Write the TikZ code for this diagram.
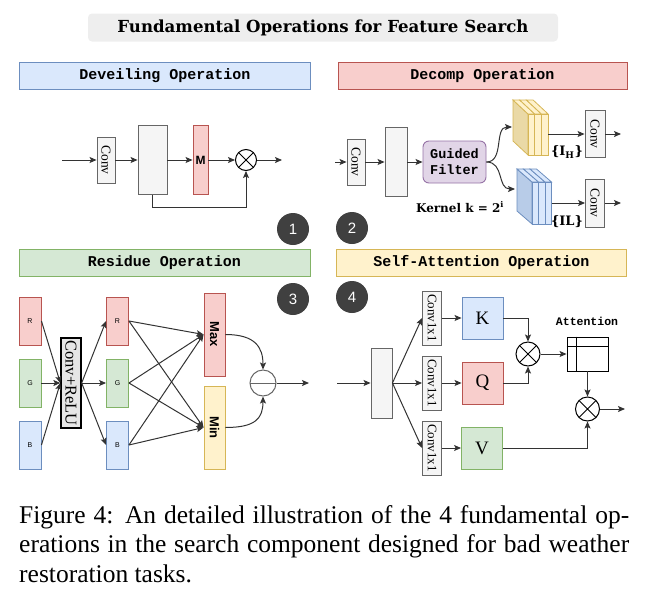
\documentclass[tikz,border=0pt]{standalone}
\usepackage{fontspec}
\usepackage{graphicx}
\setmainfont{Liberation Serif}
\setsansfont{Liberation Sans}
\setmonofont{Liberation Mono}
\newfontfamily\geo{DejaVu Serif}
\usetikzlibrary{arrows.meta,calc}
\definecolor{blueF}{HTML}{DAE8FC}\definecolor{blueD}{HTML}{6C8EBF}
\definecolor{redF}{HTML}{F8CECC}\definecolor{redD}{HTML}{B85450}
\definecolor{greenF}{HTML}{D5E8D4}\definecolor{greenD}{HTML}{82B366}
\definecolor{yelF}{HTML}{FFF2CC}\definecolor{yelD}{HTML}{D6B656}
\definecolor{purF}{HTML}{E1D5E7}\definecolor{purD}{HTML}{9673A6}
\definecolor{grayF}{HTML}{F5F5F5}\definecolor{grayD}{HTML}{666666}
\definecolor{linec}{HTML}{333333}
\definecolor{badgeC}{HTML}{404040}
\definecolor{titleF}{HTML}{EEEEEE}
\definecolor{yelS}{HTML}{EAD9A6}
\definecolor{blueS}{HTML}{B8CCE8}
\definecolor{reluF}{HTML}{E6E6E6}
\begin{document}
\begin{tikzpicture}[x=1pt,y=-1pt,
  arr/.style={draw=linec,line width=1pt,-{Stealth[length=7pt,width=6pt,inset=1.5pt]}},
  box/.style={rectangle,draw,inner sep=0pt,line width=0.9pt},
  gbox/.style={box,fill=grayF,draw=grayD},
  convb/.style={gbox,minimum width=18pt,minimum height=46pt,font=\fontsize{13.5}{13.5}\selectfont},
  hdr/.style={box,minimum width=291pt,minimum height=27pt,font=\ttfamily\bfseries\fontsize{15}{15}\selectfont},
  badge/.style={circle,fill=badgeC,text=white,minimum size=32pt,inner sep=0pt,font=\sffamily\fontsize{15}{15}\selectfont},
  otimes/.style={circle,draw=black,line width=1pt,minimum size=#1,inner sep=0pt,
     path picture={\draw[black,line width=1pt] (path picture bounding box.center) +(45:20pt) -- +(225:20pt)
        (path picture bounding box.center) +(135:20pt) -- +(-45:20pt);}},
  ominus/.style={circle,draw=grayD,line width=1pt,minimum size=26pt,inner sep=0pt,
     path picture={\draw[grayD,line width=1pt] (path picture bounding box.west) -- (path picture bounding box.east);}},
  rgb/.style={box,minimum width=22pt,minimum height=48pt,font=\sffamily\fontsize{7}{7}\selectfont},
  letter/.style={box,minimum width=41pt,minimum height=42pt,font=\fontsize{19}{19}\selectfont},
  cxx/.style={gbox,minimum width=19pt,minimum height=54pt,font=\fontsize{13}{13}\selectfont},
  slab/.style={line width=0.8pt},
]
\useasboundingbox (0,0) rectangle (648,600);
% title and headers
\node[fill=titleF,rounded corners=4pt,minimum width=470pt,minimum height=28pt,inner sep=0pt,font=\geo\bfseries\fontsize{16.6}{16.6}\selectfont] (title) at (323,27.5) {Fundamental Operations for Feature Search};
\node[hdr,fill=blueF,draw=blueD] (h1) at (165,76) {Deveiling Operation};
\node[hdr,fill=redF,draw=redD,minimum width=289pt] (h2) at (482.5,76) {Decomp Operation};
\node[hdr,fill=greenF,draw=greenD] (h3) at (164.5,262.5) {Residue Operation};
\node[hdr,fill=yelF,draw=yelD,minimum width=290pt] (h4) at (481.5,262.5) {Self-Attention Operation};
% badges
\node[badge] (b1) at (293,229) {1};
\node[badge] (b2) at (352,228) {2};
\node[badge] (b3) at (293,299) {3};
\node[badge] (b4) at (352,297) {4};
% ---------- panel 1
\coordinate (p1in) at (62,160);
\node[convb] (p1conv) at (106,160) {\rotatebox{-90}{Conv}};
\node[gbox,minimum width=29pt,minimum height=69pt] (p1box) at (152.5,160) {};
\node[box,fill=redF,draw=redD,minimum width=15pt,minimum height=69pt,font=\sffamily\bfseries\fontsize{12}{12}\selectfont] (p1m) at (200.5,160) {M};
\node[otimes=21pt] (p1x) at (246,160) {};
\coordinate (p1out) at (282,160);
\draw[arr] (p1in) -- (p1conv);
\draw[arr] (p1conv) -- (p1box);
\draw[arr] (p1box) -- (p1m);
\draw[arr] (p1m) -- (p1x);
\draw[arr] (p1x) -- (p1out);
\draw[arr] (p1box.south) -- ++(0,13) -| (p1x.south);
% ---------- panel 2
\coordinate (p2in) at (335,162);
\node[convb] (p2conv) at (356,162) {\rotatebox{-90}{Conv}};
\node[gbox,minimum width=22pt,minimum height=69pt] (p2box) at (396,162) {};
\node[box,fill=purF,draw=purD,rounded corners=6pt,minimum width=63pt,minimum height=42pt,align=center,font=\ttfamily\bfseries\fontsize{13.5}{16}\selectfont] (gf) at (454.5,162) {Guided\\Filter};
\node[font=\geo\bfseries\fontsize{12}{12}\selectfont] (kern) at (460,207) {Kernel k = 2\textsuperscript{i}};
\draw[arr] (p2in) -- (p2conv);
\draw[arr] (p2conv) -- (p2box);
\draw[arr] (p2box) -- (gf);
% yellow block
\filldraw[fill=yelS,draw=yelD,slab] (528,114) -- (513,100) -- (513,141) -- (528,155) -- cycle;
\foreach \i in {0,1,2} {
  \pgfmathsetmacro\xl{528+6.7*\i}
  \pgfmathsetmacro\xr{528+6.7*(\i+1)}
  \filldraw[fill=yelF,draw=yelD,slab] (\xl,114) -- (\xl-15,100) -- (\xr-15,100) -- (\xr,114) -- cycle;
  \filldraw[fill=yelF,draw=yelD,slab] (\xl,114) rectangle (\xr,155);
}
% blue block
\filldraw[fill=blueS,draw=blueD,slab] (532,182) -- (517,169) -- (517,211) -- (532,224) -- cycle;
\foreach \i in {0,1,2} {
  \pgfmathsetmacro\xl{532+6.5*\i}
  \pgfmathsetmacro\xr{532+6.5*(\i+1)}
  \filldraw[fill=blueF,draw=blueD,slab] (\xl,182) -- (\xl-15,169) -- (\xr-15,169) -- (\xr,182) -- cycle;
  \filldraw[fill=blueF,draw=blueD,slab] (\xl,182) rectangle (\xr,224);
}
\coordinate (yin) at (512,127);
\coordinate (yout) at (548,134);
\coordinate (bin2) at (515,189);
\coordinate (bout) at (551.5,203);
\draw[arr] (gf.east) .. controls +(18,0) and +(-18,0) .. (yin);
\draw[arr] (gf.east) .. controls +(18,0) and +(-18,0) .. (bin2);
\node[convb,minimum width=20pt,minimum height=47pt] (p2c1) at (595,134) {\rotatebox{-90}{Conv}};
\node[convb,minimum width=19pt,minimum height=48pt] (p2c2) at (595,203) {\rotatebox{-90}{Conv}};
\coordinate (p2o1) at (621,134);
\coordinate (p2o2) at (621,203);
\draw[arr] (yout) -- (p2c1);
\draw[arr] (bout) -- (p2c2);
\draw[arr] (p2c1) -- (p2o1);
\draw[arr] (p2c2) -- (p2o2);
\node[font=\geo\bfseries\fontsize{13}{13}\selectfont] (lih) at (567,152) {\{I\textsubscript{H}\}};
\node[font=\geo\bfseries\fontsize{13}{13}\selectfont] (lil) at (567,222) {\{IL\}};
% ---------- panel 3
\node[rgb,fill=redF,draw=redD] (rin) at (30,321) {R};
\node[rgb,fill=greenF,draw=greenD] (gin) at (30,383) {G};
\node[rgb,fill=blueF,draw=blueD] (bin) at (30,445) {B};
\node[box,fill=reluF,draw=black,line width=1.3pt,minimum width=20pt,minimum height=90pt,font=\fontsize{16.5}{16.5}\selectfont] (relu) at (71,383) {\rotatebox{-90}{Conv+ReLU}};
\draw[arr] (rin.east) -- (relu.west);
\draw[arr] (gin.east) -- (relu.west);
\draw[arr] (bin.east) -- (relu.west);
\node[rgb,fill=redF,draw=redD] (r2) at (117.5,321) {R};
\node[rgb,fill=greenF,draw=greenD] (g2) at (117.5,383) {G};
\node[rgb,fill=blueF,draw=blueD] (b2) at (117.5,445) {B};
\draw[arr] (relu.east) -- (r2.west);
\draw[arr] (relu.east) -- (g2.west);
\draw[arr] (relu.east) -- (b2.west);
\node[box,fill=redF,draw=redD,minimum width=21pt,minimum height=83pt,font=\sffamily\bfseries\fontsize{13}{13}\selectfont] (maxb) at (214.5,334.5) {\rotatebox{-90}{Max}};
\node[box,fill=yelF,draw=yelD,minimum width=21pt,minimum height=83pt,font=\sffamily\bfseries\fontsize{13}{13}\selectfont] (minb) at (214.5,427.5) {\rotatebox{-90}{Min}};
\foreach \s in {r2,g2,b2} {
  \draw[arr] (\s.east) -- (maxb.west);
  \draw[arr] (\s.east) -- (minb.west);
}
\node[ominus] (mn) at (263,383) {};
\draw[arr] (maxb.east) .. controls +(30,0) and +(0,-22) .. (mn.north);
\draw[arr] (minb.east) .. controls +(30,0) and +(0,22) .. (mn.south);
\coordinate (p3out) at (309,383);
\draw[arr] (mn.east) -- (p3out);
% ---------- panel 4
\coordinate (p4in) at (337,383);
\node[gbox,minimum width=21pt,minimum height=70pt] (p4box) at (381.5,383) {};
\node[cxx] (cv1) at (432,318) {\rotatebox{-90}{Conv1x1}};
\node[cxx] (cv2) at (432,383) {\rotatebox{-90}{Conv1x1}};
\node[cxx] (cv3) at (432,448) {\rotatebox{-90}{Conv1x1}};
\draw[arr] (p4in) -- (p4box);
\draw[arr] (p4box.east) -- (cv1.west);
\draw[arr] (p4box.east) -- (cv2.west);
\draw[arr] (p4box.east) -- (cv3.west);
\node[letter,fill=blueF,draw=blueD] (kk) at (482.5,318) {K};
\node[letter,fill=redF,draw=redD] (qq) at (482.5,383) {Q};
\node[letter,fill=greenF,draw=greenD] (vv) at (482,448) {V};
\draw[arr] (cv1) -- (kk);
\draw[arr] (cv2) -- (qq);
\draw[arr] (cv3) -- (vv);
\node[otimes=24pt] (ox1) at (528,354) {};
\draw[arr] (kk.east) -| (ox1.north);
\draw[arr] (qq.east) -| (ox1.south);
\node[box,draw=black,minimum width=41pt,minimum height=34pt] (att) at (587.5,354) {};
\draw[black,line width=0.9pt] ([xshift=10pt]att.north west) -- ([xshift=10pt]att.south west)
   ([yshift=-10pt]att.north west) -- ([yshift=-10pt]att.north east);
\node[font=\ttfamily\bfseries\fontsize{11.5}{11.5}\selectfont] (attl) at (587,321) {Attention};
\draw[arr] (ox1) -- (att);
\node[otimes=24pt] (ox2) at (587.5,409) {};
\draw[arr] (att) -- (ox2);
\draw[arr] (vv.east) -| (ox2.south);
\coordinate (p4out) at (625,409);
\draw[arr] (ox2) -- (p4out);
% ---------- caption
\node[anchor=north west,inner sep=0pt,text width=610pt,align=justify,font=\fontsize{25.5}{29.5}\selectfont] (cap) at (19,505) {Figure 4: An detailed illustration of the 4 fundamental op-\linebreak erations in the search component designed for bad weather\linebreak restoration tasks.};
\end{tikzpicture}
\end{document}
